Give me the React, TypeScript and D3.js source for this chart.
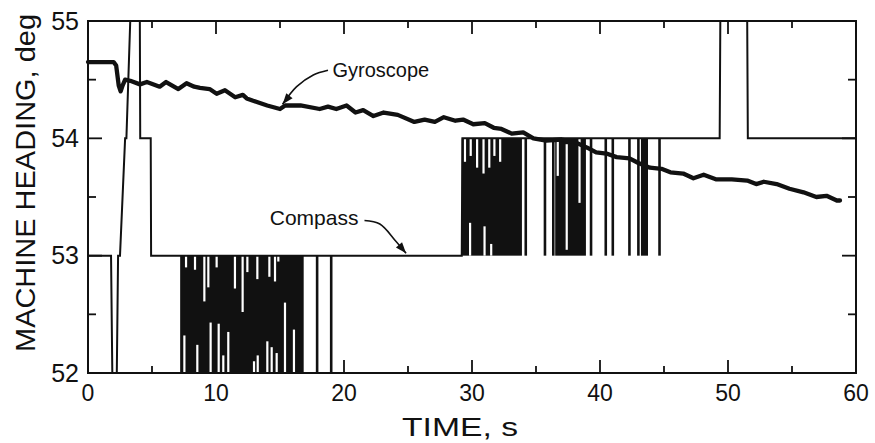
import React from "react";
import * as d3 from "d3";

// ---------- data ----------
const xMajorTicks = [0, 10, 20, 30, 40, 50, 60];
const xMinorTicks = [5, 15, 25, 35, 45, 55];
const yMajorTicks = [52, 53, 54, 55];
const yMinorTicks = [52.5, 53.5, 54.5];

// Gyroscope trace [time s, heading deg]
const gyroT = [0, 2.0, 2.2, 2.4, 2.55, 2.7, 2.9, 3.3, 4.06, 4.6, 5.6, 6.1, 7.06, 7.7, 8.3, 8.75, 9.5, 10.05, 10.7, 11.5, 12.1, 12.4, 12.9, 14.0, 15.0, 15.4, 16.6, 18.1, 18.75, 19.4, 20.2, 20.9, 21.5, 22.3, 23.1, 24.2, 25.5, 26.3, 27.1, 27.8, 28.7, 29.3, 30.1, 31.0, 31.7, 32.3, 33.1, 34.0, 34.8, 35.8, 37.0, 38.0, 39.0, 39.7, 40.5, 41.3, 42.3, 43.0, 43.9, 44.8, 45.5, 46.5, 47.3, 48.1, 49.1, 50.3, 51.5, 52.2, 52.8, 53.8, 54.8, 55.9, 56.9, 57.7, 58.5, 58.75];
const gyroV = [54.65, 54.65, 54.62, 54.45, 54.40, 54.45, 54.50, 54.49, 54.46, 54.48, 54.44, 54.48, 54.42, 54.47, 54.44, 54.43, 54.42, 54.38, 54.41, 54.35, 54.37, 54.34, 54.32, 54.28, 54.25, 54.28, 54.28, 54.25, 54.27, 54.25, 54.28, 54.22, 54.24, 54.19, 54.22, 54.20, 54.14, 54.16, 54.14, 54.18, 54.15, 54.16, 54.12, 54.13, 54.09, 54.08, 54.04, 54.05, 54.0, 53.98, 53.99, 53.97, 53.92, 53.88, 53.87, 53.84, 53.83, 53.79, 53.75, 53.74, 53.71, 53.70, 53.66, 53.69, 53.65, 53.65, 53.64, 53.61, 53.63, 53.61, 53.57, 53.54, 53.50, 53.51, 53.47, 53.47];

// Compass base trace [time s, heading deg]
const compassT = [0, 1.8, 1.9, 2.25, 2.35, 2.5, 2.9, 3.0, 3.3, 4.05, 4.08, 4.9, 4.93, 29.2, 29.25, 49.35, 49.4, 51.5, 51.55, 60];
const compassV = [53, 53, 52, 52, 53, 53, 54, 54, 55, 55, 54, 54, 53, 53, 54, 54, 55, 55, 54, 54];

// Compass rapid toggling bands [tStart, tEnd, low, high]
const denseStart = [7.2, 29.2, 36.5, 43.2];
const denseEnd = [16.85, 33.9, 38.9, 43.75];
const denseLow = [52, 53, 53, 53];
const denseHigh = [53, 54, 54, 54];

// Individual compass pulses [t, low, high]
const pulseT = [17.9, 19.0, 34.2, 35.7, 36.35, 39.3, 40.45, 41.0, 42.3, 43.0, 44.65];
const pulseLow = [52, 52, 53, 53, 53, 53, 53, 53, 53, 53, 53];
const pulseHigh = [53, 53, 54, 54, 54, 54, 54, 54, 54, 54, 54];

// Gaps inside the toggling bands [t, from, to]
const gapT = [7.66, 8.36, 9.09, 9.40, 10.05, 11.48, 12.08, 12.45, 13.23, 14.17, 14.61, 14.87,
  7.53, 8.54, 9.58, 10.21, 10.57, 10.96, 12.97, 13.26, 14.01, 14.35, 14.74, 15.39, 16.09,
  29.45, 29.9, 30.4, 30.9, 31.35, 31.75, 32.2, 29.85, 30.98, 31.5,
  36.7, 37.4, 38.4];
const gapFrom = [53, 53, 53, 53, 53, 53, 53, 53, 53, 53, 53, 53,
  52, 52, 52, 52, 52, 52, 52, 52, 52, 52, 52, 52, 52,
  54, 54, 54, 54, 54, 54, 54, 53, 53, 53,
  54, 53.05, 54];
const gapTo = [52.9, 52.88, 52.61, 52.73, 52.9, 52.72, 52.52, 52.86, 52.8, 52.82, 52.78, 52.95,
  52.32, 52.24, 52.43, 52.42, 52.15, 52.35, 52.1, 52.15, 52.27, 52.22, 52.17, 52.6, 52.37,
  53.8, 53.85, 53.75, 53.7, 53.75, 53.85, 53.8, 53.28, 53.25, 53.1,
  53.68, 53.95, 53.45];

// Annotations
const gyroLabel = { text: "Gyroscope", t: 19.1, v: 54.58 };
const gyroArrow = [[18.75, 54.58], [17.6, 54.54], [16.3, 54.44], [15.2, 54.29]];
const compassLabel = { text: "Compass", t: 14.2, v: 53.32 };
const compassArrow = [[21.6, 53.3], [22.8, 53.27], [24.0, 53.13], [24.85, 53.02]];

// ---------- chart ----------
const W = 875, H = 443;
const x = d3.scaleLinear().domain([0, 60]).range([88, 856]);
const y = d3.scaleLinear().domain([52, 55]).range([373, 21]);

function arrowHead(p: number[][]) {
  const a = p[p.length - 2], b = p[p.length - 1];
  const ax = x(a[0]), ay = y(a[1]), bx = x(b[0]), by = y(b[1]);
  const ang = Math.atan2(by - ay, bx - ax);
  const L = 11, Wd = 4;
  const px = bx - L * Math.cos(ang), py = by - L * Math.sin(ang);
  const nx = -Math.sin(ang), ny = Math.cos(ang);
  return `M${bx},${by}L${px + nx * Wd},${py + ny * Wd}L${px - nx * Wd},${py - ny * Wd}Z`;
}

export default function App() {
  const gyroLine = d3.line<number>().x((_, i) => x(gyroT[i])).y((_, i) => y(gyroV[i]));
  const compassLine = d3.line<number>().x((_, i) => x(compassT[i])).y((_, i) => y(compassV[i]));
  const curve = d3.line<number[]>().x(d => x(d[0])).y(d => y(d[1])).curve(d3.curveCatmullRom);
  const font = "'Liberation Sans', Arial, sans-serif";
  const x0 = x(0), x1 = x(60), y0 = y(52), y1 = y(55);

  return (
    <svg width={W} height={H} style={{ position: "absolute", left: 0, top: 0, background: "#fff" }}>
      <rect width={W} height={H} fill="#fff" />
      {/* dense toggling bands */}
      {denseStart.map((s, i) => (
        <rect key={"d" + i} x={x(s)} y={y(denseHigh[i])} width={x(denseEnd[i]) - x(s)}
          height={y(denseLow[i]) - y(denseHigh[i])} fill="#111" />
      ))}
      {gapT.map((t, i) => (
        <line key={"g" + i} x1={x(t)} x2={x(t)} y1={y(gapFrom[i])} y2={y(gapTo[i])}
          stroke="#fff" strokeWidth={2.2} />
      ))}
      {pulseT.map((t, i) => (
        <line key={"p" + i} x1={x(t)} x2={x(t)} y1={y(pulseLow[i])} y2={y(pulseHigh[i])}
          stroke="#111" strokeWidth={2.6} />
      ))}
      <path d={compassLine(compassT) || ""} fill="none" stroke="#111" strokeWidth={2} />
      <path d={gyroLine(gyroT) || ""} fill="none" stroke="#111" strokeWidth={4.3}
        strokeLinejoin="round" strokeLinecap="round" />

      {/* frame */}
      <rect x={x0} y={y1} width={x1 - x0} height={y0 - y1} fill="none" stroke="#111" strokeWidth={2} />
      {xMajorTicks.map(t => (
        <g key={"xm" + t}>
          <line x1={x(t)} x2={x(t)} y1={y0} y2={y0 - 13} stroke="#111" strokeWidth={1.8} />
          <line x1={x(t)} x2={x(t)} y1={y1} y2={y1 + 13} stroke="#111" strokeWidth={1.8} />
          <text x={x(t)} y={401} textAnchor="middle" fontFamily={font} fontSize={23} fill="#111">{t}</text>
        </g>
      ))}
      {xMinorTicks.map(t => (
        <g key={"xn" + t}>
          <line x1={x(t)} x2={x(t)} y1={y0} y2={y0 - 7} stroke="#111" strokeWidth={1.8} />
          <line x1={x(t)} x2={x(t)} y1={y1} y2={y1 + 7} stroke="#111" strokeWidth={1.8} />
        </g>
      ))}
      {yMajorTicks.map(v => (
        <g key={"ym" + v}>
          <line x1={x0} x2={x0 + 14} y1={y(v)} y2={y(v)} stroke="#111" strokeWidth={1.8} />
          <line x1={x1} x2={x1 - 14} y1={y(v)} y2={y(v)} stroke="#111" strokeWidth={1.8} />
          <text x={79} y={y(v) + 8.5} textAnchor="end" fontFamily={font} fontSize={25} fill="#111">{v}</text>
        </g>
      ))}
      {yMinorTicks.map(v => (
        <g key={"yn" + v}>
          <line x1={x0} x2={x0 + 8} y1={y(v)} y2={y(v)} stroke="#111" strokeWidth={1.8} />
          <line x1={x1} x2={x1 - 8} y1={y(v)} y2={y(v)} stroke="#111" strokeWidth={1.8} />
        </g>
      ))}

      {/* annotations */}
      <text x={x(gyroLabel.t)} y={y(gyroLabel.v) + 7} fontFamily={font} fontSize={20} fill="#111">{gyroLabel.text}</text>
      <path d={curve(gyroArrow) || ""} fill="none" stroke="#111" strokeWidth={1.6} />
      <path d={arrowHead(gyroArrow)} fill="#111" />
      <text x={x(compassLabel.t)} y={y(compassLabel.v) + 7} fontFamily={font} fontSize={21} fill="#111">{compassLabel.text}</text>
      <path d={curve(compassArrow) || ""} fill="none" stroke="#111" strokeWidth={1.6} />
      <path d={arrowHead(compassArrow)} fill="#111" />

      {/* axis titles */}
      <text x={402} y={436} fontFamily={font} fontSize={26} fill="#111" textLength={116} lengthAdjust="spacingAndGlyphs">TIME, s</text>
      <text transform="translate(35,352) rotate(-90)" fontFamily={font} fontSize={28} fill="#111"
        textLength={338} lengthAdjust="spacingAndGlyphs">MACHINE HEADING, deg</text>
    </svg>
  );
}
